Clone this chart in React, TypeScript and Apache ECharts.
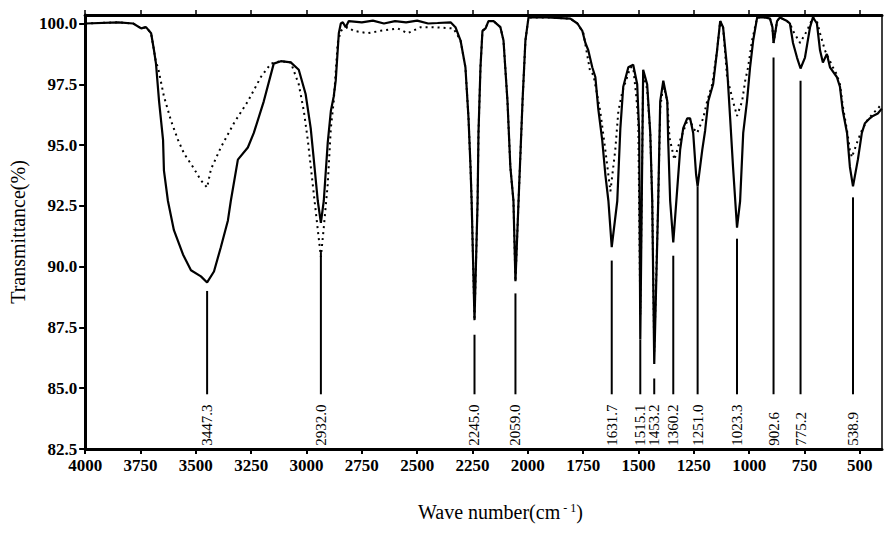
import React, { useEffect, useRef } from "react";
import * as echarts from "echarts";

const xTicks = [4000, 3750, 3500, 3250, 3000, 2750, 2500, 2250, 2000, 1750, 1500, 1250, 1000, 750, 500];
const yTicks = [82.5, 85.0, 87.5, 90.0, 92.5, 95.0, 97.5, 100.0];

const solidWavenumber = [
  4000, 3850, 3783, 3747, 3725, 3702, 3689, 3680, 3666, 3648, 3644, 3626, 3599, 3558, 3522, 3477, 3449, 3418, 3387, 3355,
  3342, 3310, 3265, 3238, 3193, 3148, 3116, 3071, 3035, 3004, 2981, 2967, 2949, 2935, 2922, 2904, 2890, 2877, 2868, 2859,
  2854, 2845, 2836, 2823, 2809, 2750, 2700, 2650, 2600, 2550, 2500, 2450, 2408, 2349, 2327, 2304, 2282, 2268, 2259, 2254,
  2241, 2227, 2223, 2214, 2205, 2191, 2178, 2155, 2124, 2110, 2092, 2079, 2065, 2056, 2042, 2024, 2011, 1997, 1943, 1912,
  1808, 1776, 1754, 1740, 1727, 1709, 1695, 1682, 1664, 1650, 1636, 1621, 1596, 1582, 1569, 1546, 1524, 1506, 1497, 1492,
  1479, 1461, 1447, 1438, 1429, 1411, 1402, 1388, 1370, 1366, 1357, 1343, 1312, 1298, 1280, 1267, 1253, 1240, 1233, 1212,
  1199, 1185, 1163, 1145, 1131, 1118, 1100, 1086, 1073, 1055, 1041, 1027, 1010, 996, 982, 964, 928, 906, 895, 890,
  874, 861, 829, 816, 802, 784, 768, 748, 725, 712, 694, 680, 667, 649, 635, 604, 590, 577, 558, 545,
  531, 509, 491, 477, 455, 441, 419, 401,
];
const solidTransmittance = [
  100.0, 100.05, 100.0, 99.8, 99.85, 99.6, 98.9, 98.35, 96.8, 95.2, 93.95, 92.7, 91.5, 90.5, 89.85, 89.6, 89.35, 89.8, 90.8, 91.9,
  92.7, 94.4, 94.9, 95.5, 96.8, 98.35, 98.45, 98.4, 98.1, 97.1, 95.7, 94.4, 92.7, 91.8, 92.7, 95.1, 96.4, 97.0, 97.65, 98.9,
  99.6, 100.0, 100.05, 99.85, 100.1, 100.05, 100.12, 100.0, 100.1, 100.05, 100.12, 100.0, 100.02, 100.05, 99.85, 99.3, 98.2, 96.1, 94.1, 92.7,
  87.8, 92.7, 95.5, 98.2, 99.7, 99.8, 100.1, 100.1, 99.85, 99.3, 96.8, 94.1, 92.7, 89.4, 92.7, 96.8, 99.3, 100.25, 100.25, 100.25,
  100.2, 100.0, 99.7, 99.2, 98.9, 98.2, 97.8, 96.5, 95.2, 93.8, 92.7, 90.8, 92.7, 95.7, 97.4, 98.2, 98.3, 97.5, 95.5, 87.0,
  98.1, 97.5, 95.5, 92.7, 86.0, 92.7, 96.8, 97.65, 96.8, 95.2, 92.7, 91.0, 94.8, 95.7, 96.1, 96.1, 95.5, 93.8, 93.3, 94.8,
  95.6, 96.8, 97.5, 98.9, 100.1, 99.85, 98.2, 96.1, 94.1, 91.6, 92.7, 95.5, 96.8, 98.2, 99.3, 100.25, 100.25, 100.2, 99.85, 99.2,
  100.1, 100.25, 100.1, 100.0, 99.2, 98.6, 98.15, 98.6, 99.85, 100.25, 100.0, 98.9, 98.4, 98.75, 98.2, 97.8, 97.4, 96.4, 95.5, 94.1,
  93.3, 94.4, 95.5, 95.9, 96.1, 96.2, 96.3, 96.5,
];

const dottedWavenumber = [
  4000, 3850, 3783, 3747, 3725, 3702, 3689, 3680, 3671, 3644, 3612, 3580, 3553, 3513, 3477, 3449, 3432, 3387, 3328, 3265,
  3206, 3161, 3116, 3071, 3035, 3012, 2994, 2972, 2950, 2935, 2922, 2904, 2890, 2877, 2859, 2845, 2814, 2787, 2724, 2665,
  2588, 2543, 2484, 2426, 2336, 2304, 2282, 2268, 2259, 2254, 2241, 2227, 2223, 2214, 2205, 2191, 2178, 2155, 2124, 2110,
  2092, 2079, 2065, 2056, 2042, 2024, 2011, 1997, 1943, 1912, 1808, 1776, 1749, 1718, 1704, 1673, 1650, 1627, 1605, 1591,
  1573, 1537, 1524, 1510, 1501, 1492, 1479, 1461, 1447, 1438, 1429, 1411, 1402, 1388, 1370, 1360, 1338, 1312, 1280, 1270,
  1253, 1235, 1208, 1190, 1167, 1145, 1131, 1118, 1100, 1073, 1055, 1032, 1018, 1005, 987, 964, 928, 906, 895, 890,
  874, 861, 829, 816, 802, 770, 739, 712, 694, 680, 658, 622, 604, 590, 577, 558, 545, 536, 509, 491,
  468, 441, 419, 401,
];
const dottedTransmittance = [
  100.0, 100.05, 100.0, 99.8, 99.85, 99.6, 98.9, 98.4, 98.2, 97.0, 96.0, 95.2, 94.65, 94.1, 93.55, 93.25, 94.0, 94.9, 95.9, 96.8,
  97.8, 98.35, 98.45, 98.4, 97.5, 96.4, 95.2, 93.4, 91.6, 90.4, 91.6, 93.4, 95.7, 96.8, 99.2, 99.7, 99.85, 99.7, 99.6, 99.7,
  99.8, 99.6, 99.85, 99.85, 99.8, 99.3, 98.2, 96.1, 94.1, 92.7, 87.8, 92.7, 95.5, 98.2, 99.7, 99.8, 100.1, 100.1, 99.85, 99.3,
  96.8, 94.1, 92.7, 89.4, 92.7, 96.8, 99.3, 100.25, 100.25, 100.25, 100.2, 100.0, 99.6, 98.0, 97.9, 96.4, 94.8, 93.1, 94.8, 96.4,
  97.2, 98.2, 98.2, 97.0, 96.0, 88.0, 97.9, 97.3, 95.5, 92.7, 86.5, 92.7, 96.5, 97.5, 96.8, 95.3, 94.4, 95.2, 96.0, 96.1,
  95.7, 95.5, 96.1, 96.8, 97.5, 98.9, 100.1, 99.85, 97.8, 96.8, 96.2, 96.8, 97.65, 98.2, 99.3, 100.25, 100.25, 100.2, 99.85, 99.2,
  100.1, 100.25, 100.1, 100.0, 99.7, 99.2, 99.7, 100.25, 100.1, 99.6, 98.9, 98.2, 97.9, 97.5, 96.6, 95.6, 94.8, 94.5, 95.2, 95.6,
  96.0, 96.3, 96.5, 96.7,
];

const peakLabels = ["3447.3", "2932.0", "2245.0", "2059.0", "1631.7", "1515.1", "1453.2", "1360.2", "1251.0", "1023.3", "902.6", "775.2", "538.9"];
const peakWavenumber = [3449, 2935, 2241, 2056, 1621, 1492, 1429, 1343, 1233, 1055, 890, 768, 531];
const peakLineTop = [89.0, 90.6, 87.2, 88.9, 90.25, 87.0, 85.4, 90.45, 93.3, 91.15, 98.6, 97.65, 92.85];
const peakLineBottom = 84.75;
const peakLabelBase = 82.63;

const SERIF = '"Liberation Serif", "Times New Roman", serif';

export default function App() {
  const ref = useRef<HTMLDivElement>(null);
  useEffect(() => {
    if (!ref.current) return;
    const chart = echarts.init(ref.current, null, { renderer: "svg" });
    const solid = solidWavenumber.map((w, i) => [w, solidTransmittance[i]]);
    const dotted = dottedWavenumber.map((w, i) => [w, dottedTransmittance[i]]);
    const peaks = peakWavenumber.map((w, i) => [w, peakLineTop[i], i]);
    const xBase = {
      type: "value" as const,
      min: 400,
      max: 4000,
      inverse: true,
      splitLine: { show: false },
    };
    const yBase = {
      type: "value" as const,
      min: 82.5,
      max: 100.35,
      splitLine: { show: false },
    };
    chart.setOption({
      animation: false,
      backgroundColor: "#fff",
      grid: { left: 83, right: 3, top: 15, bottom: 89, containLabel: false },
      xAxis: [
        {
          ...xBase,
          position: "bottom",
          axisLine: { show: true, lineStyle: { color: "#000", width: 3 } },
          axisTick: { show: true, inside: false, length: 5, customValues: xTicks, lineStyle: { color: "#000", width: 2 } },
          axisLabel: {
            customValues: xTicks,
            margin: 8,
            color: "#000",
            fontFamily: SERIF,
            fontSize: 17,
            fontWeight: "bold",
            formatter: (v: number) => String(v),
          },
        },
        {
          ...xBase,
          position: "top",
          axisLine: { show: true, lineStyle: { color: "#000", width: 3 } },
          axisTick: { show: true, inside: false, length: 5, customValues: xTicks, lineStyle: { color: "#000", width: 1.5 } },
          axisLabel: { show: false },
        },
      ],
      yAxis: [
        {
          ...yBase,
          position: "left",
          name: "Transmittance(%)",
          nameLocation: "middle",
          nameRotate: 90,
          nameGap: 57,
          nameTextStyle: { color: "#000", fontFamily: SERIF, fontSize: 20 },
          axisLine: { show: true, lineStyle: { color: "#000", width: 3 } },
          axisTick: { show: true, inside: false, length: 6, customValues: yTicks, lineStyle: { color: "#000", width: 2 } },
          axisLabel: {
            customValues: yTicks,
            margin: 8,
            color: "#000",
            fontFamily: SERIF,
            fontSize: 17,
            fontWeight: "bold",
            formatter: (v: number) => v.toFixed(1),
          },
        },
        {
          ...yBase,
          position: "right",
          axisLine: { show: true, lineStyle: { color: "#000", width: 1.5 } },
          axisTick: { show: false },
          axisLabel: { show: false },
        },
      ],
      graphic: [
        {
          type: "text",
          left: 418,
          top: 502,
          style: {
            text: "{a|Wave number(cm}{b| - 1}{a|)}",
            rich: {
              a: { fontFamily: SERIF, fontSize: 20, fill: "#000", color: "#000" },
              b: { fontFamily: SERIF, fontSize: 12, fill: "#000", color: "#000", verticalAlign: "top" },
            },
          },
        },
      ],
      series: [
        {
          type: "line",
          data: dotted,
          showSymbol: false,
          symbol: "none",
          lineStyle: { color: "#000", width: 2, type: [2, 4] },
          z: 2,
        },
        {
          type: "line",
          data: solid,
          showSymbol: false,
          symbol: "none",
          lineStyle: { color: "#000", width: 2.2 },
          z: 3,
        },
        {
          type: "custom",
          data: peaks,
          z: 4,
          renderItem: (params: any, api: any) => {
            const w = api.value(0);
            const top = api.value(1);
            const idx = api.value(2);
            const p1 = api.coord([w, top]);
            const p2 = api.coord([w, peakLineBottom]);
            const p3 = api.coord([w, peakLabelBase]);
            return {
              type: "group",
              children: [
                {
                  type: "line",
                  shape: { x1: p1[0], y1: p1[1], x2: p2[0], y2: p2[1] },
                  style: { stroke: "#000", lineWidth: 2 },
                },
                {
                  type: "text",
                  x: p3[0],
                  y: p3[1],
                  rotation: Math.PI / 2,
                  style: {
                    text: peakLabels[idx],
                    fill: "#000",
                    font: `15px ${SERIF}`,
                    textAlign: "left",
                    textVerticalAlign: "middle",
                  },
                },
              ],
            };
          },
        },
      ],
    });
    return () => chart.dispose();
  }, []);
  return (
    <div
      ref={ref}
      style={{ position: "fixed", left: 0, top: 0, width: 885, height: 538, background: "#fff" }}
    />
  );
}
